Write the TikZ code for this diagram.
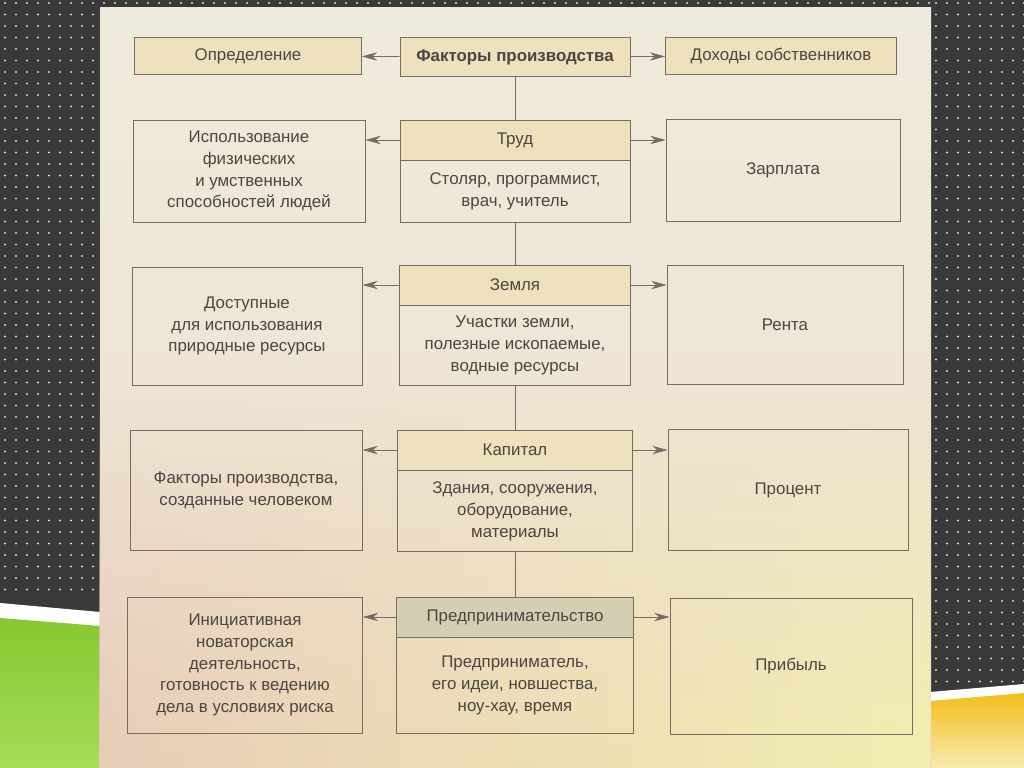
\documentclass[tikz,border=0pt]{standalone}
\usepackage{fontspec}
\setmainfont{Liberation Sans}
\usetikzlibrary{arrows.meta,positioning,fadings}
\newcommand{\pxl}{0.025cm}
\definecolor{slate}{RGB}{58,58,58}
\definecolor{dotgray}{RGB}{215,215,215}
\definecolor{pagecream}{RGB}{239,235,220}
\definecolor{pagepink}{RGB}{232,204,184}
\definecolor{headfill}{RGB}{238,225,190}
\definecolor{headsage}{RGB}{212,207,178}
\definecolor{framegray}{RGB}{118,108,98}
\definecolor{inkgray}{RGB}{76,70,64}
\definecolor{leafgreen}{RGB}{134,200,48}
\definecolor{leaflight}{RGB}{166,220,90}
\definecolor{sunyellow}{RGB}{242,190,26}
\definecolor{sunlight}{RGB}{249,234,176}

\tikzset{
  sized/.style 2 args={minimum width=#1*\pxl, minimum height=#2*\pxl},
  factbox/.style={draw=framegray, line width=0.5pt, align=center, inner sep=1pt,
    text=inkgray, font=\fontsize{12}{15.5}\selectfont},
  headbox/.style={factbox, fill=headfill},
  toarrow/.style={draw=framegray, line width=0.6pt, -{Stealth[length=11pt,width=6pt]}},
  spine/.style={draw=framegray, line width=0.6pt}
}

\begin{document}
\begin{tikzpicture}[x=\pxl, y=-\pxl]
\useasboundingbox (0,0) rectangle (1024,768);

% slide background
\fill[slate] (0,0) rectangle (1024,768);
\foreach \dx in {5,16,...,95}
  \foreach \dy in {3,14.5,...,600}
    \fill[dotgray] (\dx,\dy) circle[radius=1.2];
\foreach \dx in {936,947,...,1024}
  \foreach \dy in {3,14.5,...,690}
    \fill[dotgray] (\dx,\dy) circle[radius=1.2];
\foreach \dx in {104,115,...,930}
  \fill[dotgray] (\dx,3) circle[radius=1.2];
\fill[white] (0,603) -- (100,612) -- (100,768) -- (0,768) -- cycle;
\shade[top color=leafgreen, bottom color=leaflight] (0,618) -- (100,626) -- (100,768) -- (0,768) -- cycle;
\fill[white] (930,692) -- (1024,684) -- (1024,768) -- (930,768) -- cycle;
\shade[top color=sunyellow, bottom color=sunlight] (930,701) -- (1024,693) -- (1024,768) -- (930,768) -- cycle;

% the page
\shade[top color=pagecream, bottom color=pagecream!60!pagepink] (100,8) rectangle (931,768);
\shade[left color=pagepink, right color=pagecream!80!yellow, path fading=north] (100,380) rectangle (931,768);

% top row
\node [headbox] [sized={230}{39}] [font=\fontsize{12}{15.5}\selectfont\bfseries] (fp) at (515,57) {Факторы производства};
\node [headbox] [sized={227}{37}] (defn)    at (248,56) {Определение};
\node [headbox] [sized={231}{37}] (incomes) at (781,56) {Доходы собственников};

% labour
\node [headbox] [sized={230}{40}] (hdrLab) at (515,140) {Труд};
\node [factbox] [sized={230}{62}] [below=0pt of hdrLab] (bodyLab) {Столяр, программист,\\ врач, учитель};
\node [factbox] [sized={232}{102}] (useLab) at (249,171) {Использование\\ физических\\ и умственных\\ способностей людей};
\node [factbox] [sized={234}{102}] (wage) at (783,170) {Зарплата};

% land
\node [headbox] [sized={231}{40}] (hdrLand) at (515,285) {Земля};
\node [factbox] [sized={231}{80}] [below=0pt of hdrLand] (bodyLand) {Участки земли,\\ полезные ископаемые,\\ водные ресурсы};
\node [factbox] [sized={230}{118}] (resLand) at (247,326) {Доступные\\ для использования\\ природные ресурсы};
\node [factbox] [sized={236}{119}] (rent) at (785,325) {Рента};

% capital
\node [headbox] [sized={235}{40}] (hdrCap) at (515,450) {Капитал};
\node [factbox] [sized={235}{81}] [below=0pt of hdrCap] (bodyCap) {Здания, сооружения,\\ оборудование,\\ материалы};
\node [factbox] [sized={232}{120}] (madeCap) at (246,490) {Факторы производства,\\ созданные человеком};
\node [factbox] [sized={240}{121}] (interest) at (788,490) {Процент};

% enterprise
\node [headbox] [sized={237}{40}] [fill=headsage] (hdrEnt) at (515,617) {Предпринимательство};
\node [factbox] [sized={237}{96}] [below=0pt of hdrEnt] (bodyEnt) {Предприниматель,\\ его идеи, новшества,\\ ноу-хау, время};
\node [factbox] [sized={235}{136}] (riskEnt) at (245,665) {Инициативная\\ новаторская\\ деятельность,\\ готовность к ведению\\ дела в условиях риска};
\node [factbox] [sized={242}{136}] (profit) at (791,666) {Прибыль};

% spine
\draw [spine] (fp) -- (hdrLab);
\draw [spine] (bodyLab) -- (hdrLand);
\draw [spine] (bodyLand) -- (hdrCap);
\draw [spine] (bodyCap) -- (hdrEnt);

% arrows
\draw [toarrow] (fp) -- (defn);
\draw [toarrow] (fp) -- (incomes);
\foreach \hdr/\lft/\rgt in {hdrLab/useLab/wage, hdrLand/resLand/rent, hdrCap/madeCap/interest, hdrEnt/riskEnt/profit} {
  \draw [toarrow] (\hdr.west) -- (\hdr.west -| \lft.east);
  \draw [toarrow] (\hdr.east) -- (\hdr.east -| \rgt.west);
}

\end{tikzpicture}
\end{document}
